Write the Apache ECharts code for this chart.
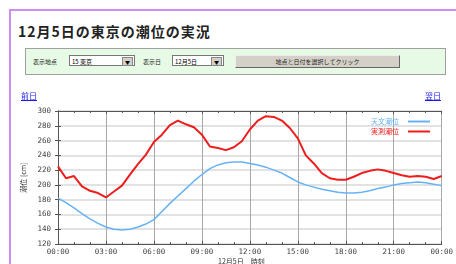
<!DOCTYPE html>
<html lang="ja">
<head>
<meta charset="utf-8">
<title>12月5日の東京の潮位の実況</title>
<script src="https://cdn.jsdelivr.net/npm/echarts@6/dist/echarts.min.js"></script>
<style>
    html, body { margin: 0; padding: 0; background: #fff; overflow: hidden; }
    body { width: 456px; height: 264px; position: relative; font-family: "Noto Sans CJK JP", sans-serif; }
    .page-frame { position: absolute; left: 9px; top: 9px; width: 500px; height: 300px; border: 2px solid #cc8ef0; }
    .page-title { position: absolute; left: 18px; top: 21px; font-size: 14px; font-weight: bold; letter-spacing: 1px; color: #222; white-space: nowrap; }
    .form-box { position: absolute; left: 25px; top: 48px; width: 419px; height: 25px; background: #e6fae6; border: 1px solid #a0a0a0; }
    .form-box .lbl { position: absolute; top: 8px; font-size: 6px; color: #222; white-space: nowrap; }
    .form-box .sel { position: absolute; top: 6px; height: 11px; background: #fff; border: 1px solid #777; font-size: 6px; line-height: 11px; padding-left: 2px; box-sizing: border-box; white-space: nowrap; }
    .form-box .sel .arr { position: absolute; right: 1px; top: 1px; width: 9px; height: 7px; background: #d4d0c8; border: 1px solid #888; font-size: 5px; line-height: 7px; text-align: center; }
    .form-box .btn { position: absolute; left: 209px; top: 6px; width: 165px; height: 13px; background: #d4d0c8; border: 1px solid; border-color: #eee #666 #666 #eee; box-sizing: border-box; font-size: 6px; line-height: 11px; text-align: center; color: #222; }
    .nav { position: absolute; top: 90px; z-index: 5; font-size: 8px; color: #1a1aee; text-decoration: underline; }
    #chart { position: absolute; left: 0; top: 88px; width: 456px; height: 176px; }
</style>
</head>
<body>
<div class="page-frame"></div>
<div class="page-title">12月5日の東京の潮位の実況</div>
<div class="form-box">
    <span class="lbl" style="left:7px">表示地点</span>
    <div class="sel" style="left:43px;width:66px">15 東京<span class="arr">▼</span></div>
    <span class="lbl" style="left:117px">表示日</span>
    <div class="sel" style="left:146px;width:52px">12月5日<span class="arr">▼</span></div>
    <div class="btn">地点と日付を選択してクリック</div>
</div>
<div id="chart"></div>
<a class="nav" href="#" style="left:21px">前日</a>
<a class="nav" href="#" style="left:425px">翌日</a>

<script>
// hours of the day (00:00 - 24:00, half-hour steps)
const hours = [
    0, 0.5, 1, 1.5, 2, 2.5, 3, 3.5, 4, 4.5, 5, 5.5, 6, 6.5, 7, 7.5, 8, 8.5, 9, 9.5,
    10, 10.5, 11, 11.5, 12, 12.5, 13, 13.5, 14, 14.5, 15, 15.5, 16, 16.5, 17, 17.5,
    18, 18.5, 19, 19.5, 20, 20.5, 21, 21.5, 22, 22.5, 23, 23.5, 24
];

// 天文潮位 (cm)
const astroTide = [
    182, 176, 169, 161, 154, 148, 143, 140, 139, 140, 143, 147, 153, 164, 175, 185, 195, 205, 214, 222,
    227, 230, 231, 231, 229, 227, 224, 220, 216, 210, 204, 200, 197, 194, 192, 190,
    189, 189, 190, 192, 195, 197, 200, 202, 203, 204, 203, 201, 199
];

// 実測潮位 (cm)
const observedTide = [
    225, 209, 212, 198, 192, 189, 183, 191, 199, 214, 228, 241, 258, 268, 281, 287, 282, 278, 268, 252,
    250, 247, 251, 259, 275, 287, 293, 292, 287, 277, 263, 240, 229, 216, 209, 207,
    207, 211, 216, 219, 221, 219, 216, 213, 211, 212, 211, 208, 212
];

const seriesNames = ['天文潮位', '実測潮位'];
const seriesColors = ['#66b2f8', '#f01c1c'];

const yTicks = [120, 140, 160, 180, 200, 220, 240, 260, 280, 300];

function hourLabel(v) {
    const h = Math.round(v) % 24;
    return String(h).padStart(2, '0') + ':00';
}

const chart = echarts.init(document.getElementById('chart'), null, { renderer: 'canvas' });

const monoFont = '"DejaVu Sans Mono", monospace';

chart.setOption({
    animation: false,
    backgroundColor: 'transparent',
    grid: { left: 58, right: 11, top: 23, bottom: 20 },
    legend: {
        orient: 'vertical',
        right: 21,
        top: 25,
        align: 'right',
        itemWidth: 22,
        itemHeight: 2,
        itemGap: 3,
        icon: 'rect',
        data: [
            { name: seriesNames[0], textStyle: { color: seriesColors[0] } },
            { name: seriesNames[1], textStyle: { color: seriesColors[1] } }
        ],
        textStyle: { fontSize: 7, fontFamily: '"Noto Sans CJK JP"', padding: [0, 4, 0, 0] }
    },
    xAxis: [
        {
            type: 'value',
            min: 0,
            max: 24,
            interval: 3,
            position: 'bottom',
            axisLine: { show: true, lineStyle: { color: '#555', width: 1 } },
            axisTick: { show: true, inside: true, length: 3, lineStyle: { color: '#555' } },
            minorTick: { show: true, splitNumber: 3, length: 2, lineStyle: { color: '#555' } },
            axisLabel: { formatter: hourLabel, fontSize: 7.5, fontFamily: monoFont, color: '#444', margin: 4 },
            splitLine: { show: true, lineStyle: { color: '#a8a8a8', width: 1 } }
        },
        {
            type: 'value',
            min: 0,
            max: 24,
            interval: 3,
            position: 'top',
            axisLine: { show: true, lineStyle: { color: '#555', width: 1 } },
            axisTick: { show: true, inside: true, length: 3, lineStyle: { color: '#555' } },
            minorTick: { show: true, splitNumber: 3, length: 2, lineStyle: { color: '#555' } },
            axisLabel: { show: false },
            splitLine: { show: false }
        }
    ],
    yAxis: [
        {
            type: 'value',
            min: yTicks[0],
            max: yTicks[yTicks.length - 1],
            interval: 20,
            name: '潮位 [cm]',
            nameLocation: 'middle',
            nameRotate: 90,
            nameGap: 30,
            nameTextStyle: { fontSize: 7, color: '#333', fontFamily: '"Noto Sans CJK JP"' },
            axisLine: { show: true, lineStyle: { color: '#555', width: 1 } },
            axisTick: { show: true, inside: true, length: 3, lineStyle: { color: '#555' } },
            axisLabel: { fontSize: 7.5, fontFamily: monoFont, color: '#444', margin: 7 },
            splitLine: { show: true, lineStyle: { color: '#e2e2e2', width: 2 } }
        },
        {
            type: 'value',
            min: yTicks[0],
            max: yTicks[yTicks.length - 1],
            interval: 20,
            position: 'right',
            axisLine: { show: true, lineStyle: { color: '#555', width: 1 } },
            axisTick: { show: true, inside: true, length: 3, lineStyle: { color: '#555' } },
            axisLabel: { show: false },
            splitLine: { show: false }
        }
    ],
    graphic: [
        {
            type: 'text',
            left: 218,
            top: 170,
            style: { text: '12月5日　時刻', fontSize: 7, fill: '#333', fontFamily: '"Noto Sans CJK JP"' }
        }
    ],
    series: [
        {
            name: seriesNames[0],
            type: 'line',
            showSymbol: false,
            data: hours.map((h, i) => [h, astroTide[i]]),
            lineStyle: { color: seriesColors[0], width: 1.5 },
            itemStyle: { color: seriesColors[0] }
        },
        {
            name: seriesNames[1],
            type: 'line',
            showSymbol: false,
            data: hours.map((h, i) => [h, observedTide[i]]),
            lineStyle: { color: seriesColors[1], width: 2 },
            itemStyle: { color: seriesColors[1] }
        }
    ]
});
</script>
</body>
</html>
